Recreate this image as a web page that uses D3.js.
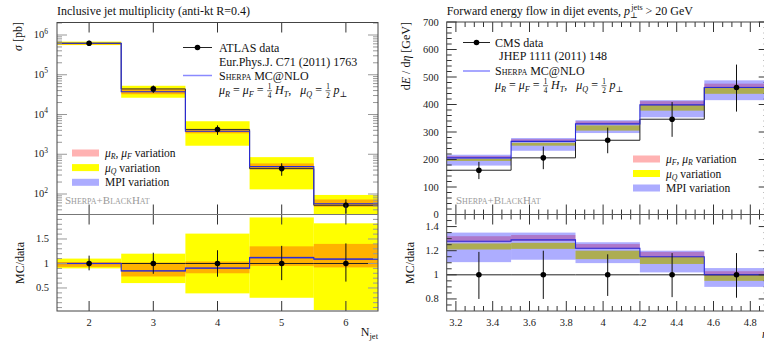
<!DOCTYPE html>
<html><head><meta charset="utf-8">
<script src="https://cdn.jsdelivr.net/npm/d3@7"></script>
<style>
body{margin:0;background:#fff;}
svg{display:block;font-family:"Liberation Serif","DejaVu Serif",serif;}
text{white-space:pre;}
</style></head>
<body><svg id="c" width="764" height="348"></svg>
<script>
// ---------------- DATA: left (ATLAS inclusive jet multiplicity) ----------------
const leftNjet   = [2, 3, 4, 5, 6];
const leftEdges  = [1.5, 2.5, 3.5, 4.5, 5.5, 6.5];
const atlasXsec  = [6.2e5, 4.4e4, 4.2e3, 436, 52];          // pb
const atlasErrHi = [1.16, 1.22, 1.27, 1.36, 1.41];           // relative to data
const atlasErrLo = [0.86, 0.79, 0.73, 0.66, 0.63];
const atlasMC    = [1.0, 0.85, 0.905, 1.12, 1.09];           // MC / data
const atlasMuRLo = [0.93, 0.735, 0.80, 0.95, 0.92];
const atlasMuRHi = [1.03, 1.02, 1.04, 1.35, 1.40];
const atlasMuQLo = [0.90, 0.60, 0.39, 0.30, 0.05];
const atlasMuQHi = [1.10, 1.20, 1.61, 1.94, 1.82];
const atlasMpiLo = [0.985, 0.835, 0.89, 1.10, 1.07];
const atlasMpiHi = [1.015, 0.865, 0.92, 1.14, 1.11];
const leftXTicks      = [2, 3, 4, 5, 6];
const leftMainTicks   = [1e2, 1e3, 1e4, 1e5, 1e6];
const leftMainTickExp = ["2", "3", "4", "5", "6"];
const leftRatioTicks  = [0.5, 1, 1.5];

// ---------------- DATA: right (CMS forward energy flow) ----------------
const cmsEdges  = [3.15, 3.5, 3.85, 4.2, 4.55, 4.9];
const cmsEta    = [3.325, 3.675, 4.025, 4.375, 4.725];
const cmsFlow   = [161, 206, 270, 346.5, 462];               // GeV
const cmsErrHi  = [1.19, 1.20, 1.17, 1.18, 1.18];
const cmsErrLo  = [0.80, 0.80, 0.825, 0.815, 0.81];
const cmsMC     = [1.278, 1.29, 1.22, 1.15, 1.0];
const cmsMuRLo  = [1.27, 1.28, 1.215, 1.145, 0.995];
const cmsMuRHi  = [1.32, 1.33, 1.255, 1.19, 1.03];
const cmsMuQLo  = [1.21, 1.215, 1.13, 1.09, 0.95];
const cmsMuQHi  = [1.26, 1.265, 1.20, 1.15, 1.0];
const cmsMpiLo  = [1.105, 1.125, 1.097, 1.02, 0.90];
const cmsMpiHi  = [1.35, 1.35, 1.27, 1.20, 1.056];
const rightXTicks     = [3.2, 3.4, 3.6, 3.8, 4.0, 4.2, 4.4, 4.6, 4.8];
const rightXLabels    = ["3.2","3.4","3.6","3.8","4","4.2","4.4","4.6","4.8"];
const rightMainTicks  = [0, 100, 200, 300, 400, 500, 600, 700];
const rightRatioTicks = [0.8, 1, 1.2, 1.4];
const rightRatioLabels= ["0.8","1","1.2","1.4"];

// ---------------- styles ----------------
const YELLOW = "#ffff00", RED = "rgba(255,0,0,0.30)", BLUE = "rgba(0,0,255,0.32)";
const MCCOL = "#2a2ad8", FRAME = "#444";
const FS = 12, LFS = 11.5;

const svg = d3.select("#c");
const defs = svg.append("defs");
let clipId = 0;
function clipRect(x0, y0, x1, y1) {
  const id = "clip" + (clipId++);
  defs.append("clipPath").attr("id", id).append("rect")
    .attr("x", x0).attr("y", y0).attr("width", x1 - x0).attr("height", y1 - y0);
  return "url(#" + id + ")";
}
function stepPts(edges, vals) {
  const p = [];
  vals.forEach((v, i) => { p.push([edges[i], v]); p.push([edges[i + 1], v]); });
  return p;
}
function bands(g, x, y, edges, base, sets) {
  sets.forEach(s => {
    g.selectAll(null).data(edges.slice(0, -1)).enter().append("rect")
      .attr("x", (d, i) => x(edges[i]))
      .attr("width", (d, i) => x(edges[i + 1]) - x(edges[i]))
      .attr("y", (d, i) => y(s.hi[i] * base[i]))
      .attr("height", (d, i) => Math.max(0, y(s.lo[i] * base[i]) - y(s.hi[i] * base[i])))
      .attr("fill", s.col);
  });
}
function stepLine(g, x, y, edges, vals, col, w) {
  g.append("path").attr("d", d3.line().x(d => x(d[0])).y(d => y(d[1]))(stepPts(edges, vals)))
    .attr("fill", "none").attr("stroke", col).attr("stroke-width", w);
}
function points(g, x, y, centers, vals, lo, hi) {
  g.selectAll(null).data(centers).enter().append("line")
    .attr("x1", d => x(d)).attr("x2", d => x(d))
    .attr("y1", (d, i) => y(vals[i] * lo[i])).attr("y2", (d, i) => y(vals[i] * hi[i]))
    .attr("stroke", "#111").attr("stroke-width", 1);
  g.selectAll(null).data(centers).enter().append("circle")
    .attr("cx", d => x(d)).attr("cy", (d, i) => y(vals[i])).attr("r", 2.8).attr("fill", "#000");
}
function hTicks(g, yv, x0, x1, len, col) {
  g.append("line").attr("x1", x0).attr("x2", x0 + len).attr("y1", yv).attr("y2", yv).attr("stroke", col);
  g.append("line").attr("x1", x1 - len).attr("x2", x1).attr("y1", yv).attr("y2", yv).attr("stroke", col);
}
function vTicks(g, xv, y0, y1, len, col) {
  g.append("line").attr("x1", xv).attr("x2", xv).attr("y1", y0).attr("y2", y0 + len).attr("stroke", col);
  g.append("line").attr("x1", xv).attr("x2", xv).attr("y1", y1 - len).attr("y2", y1).attr("stroke", col);
}
function rich(g, x, y, pieces, size, subOff) {
  const so = subOff === undefined ? 2.8 : subOff;
  let cx = x;
  pieces.forEach(p => {
    if (p.frac) {
      const w = 6;
      g.append("text").attr("x", cx + w / 2).attr("y", y - 4.6).attr("text-anchor", "middle").attr("font-size", size * 0.6).text(p.frac[0]);
      g.append("text").attr("x", cx + w / 2).attr("y", y + 3.6).attr("text-anchor", "middle").attr("font-size", size * 0.6).text(p.frac[1]);
      g.append("line").attr("x1", cx + 0.5).attr("x2", cx + w - 0.5).attr("y1", y - 3.3).attr("y2", y - 3.3).attr("stroke", "#111").attr("stroke-width", 0.6);
      cx += w + 2.5;
      return;
    }
    const small = p.sub || p.sup;
    const t = g.append("text").attr("x", cx)
      .attr("y", y + (p.sub ? so : 0) + (p.sup ? -5 : 0))
      .attr("font-size", small ? size * 0.68 : size)
      .attr("font-style", p.it ? "italic" : null)
      .attr("font-variant", p.sc ? "small-caps" : null)
      .attr("fill", p.col || "#111")
      .text(p.t);
    cx += t.node().getComputedTextLength() + (p.gap || 0);
  });
  return cx;
}
const formula = [
  {t: "μ", it: true}, {t: "R", sub: true, it: true}, {t: " = "}, {t: "μ", it: true}, {t: "F", sub: true, it: true},
  {t: " = "}, {frac: ["1", "4"]}, {t: "H", it: true}, {t: "T", sub: true, it: true}, {t: ",   "},
  {t: "μ", it: true}, {t: "Q", sub: true, it: true}, {t: " = "}, {frac: ["1", "2"]}, {t: "p", it: true}, {t: "⊥", sub: true}
];

// =============== LEFT PLOT ===============
(function () {
  const X0 = 57, X1 = 378, Y0 = 22.5, YM = 214.5, Y1 = 311;
  const x = d3.scaleLinear().domain([1.5, 6.5]).range([X0, X1]);
  const y = d3.scaleLog().domain([Math.pow(10, 1.4843), Math.pow(10, 6.3145)]).range([YM, Y0]);
  const r = d3.scaleLinear().domain([0.03, 2.0]).range([Y1, YM]);
  const ones = atlasXsec.map(() => 1);
  const sets = [
    {lo: atlasMuQLo, hi: atlasMuQHi, col: YELLOW},
    {lo: atlasMuRLo, hi: atlasMuRHi, col: RED},
    {lo: atlasMpiLo, hi: atlasMpiHi, col: BLUE}];

  const gm = svg.append("g").attr("clip-path", clipRect(X0, Y0, X1, YM));
  const mcAbs = atlasMC.map((v, i) => v * atlasXsec[i]);
  bands(gm, x, y, leftEdges, atlasXsec, sets);
  stepLine(gm, x, y, leftEdges, atlasXsec, "#333", 1);
  stepLine(gm, x, y, leftEdges, mcAbs, MCCOL, 1.1);
  points(gm, x, y, leftNjet, atlasXsec, atlasErrLo, atlasErrHi);

  const gr = svg.append("g").attr("clip-path", clipRect(X0, YM, X1, Y1));
  bands(gr, x, r, leftEdges, ones, sets);
  stepLine(gr, x, r, leftEdges, ones, "#222", 1);
  stepLine(gr, x, r, leftEdges, atlasMC, MCCOL, 1.1);
  points(gr, x, r, leftNjet, ones, atlasErrLo, atlasErrHi);

  const ax = svg.append("g");
  leftMainTicks.forEach((t, i) => {
    hTicks(ax, y(t), X0, X1, 10, "#999");
    const tx = ax.append("text").attr("x", X0 - 9).attr("y", y(t) + 3).attr("text-anchor", "end").attr("font-size", 10.5).attr("fill", "#222");
    tx.append("tspan").text("10");
    tx.append("tspan").attr("dy", -4.5).attr("font-size", 7.5).text(leftMainTickExp[i]);
  });
  for (let e = 1; e <= 6; e++) for (let m = 2; m <= 9; m++) {
    const yy = y(m * Math.pow(10, e));
    if (yy > Y0 && yy < YM) hTicks(ax, yy, X0, X1, 5, "#999");
  }
  leftRatioTicks.forEach(t => {
    hTicks(ax, r(t), X0, X1, 10, "#999");
    ax.append("text").attr("x", X0 - 8).attr("y", r(t) + 3.5).attr("text-anchor", "end").attr("font-size", 10.5).attr("fill", "#222").text(t);
  });
  for (let k = 1; k < 20; k++) {
    if (k % 5 === 0) continue;
    const yy = r(k / 10);
    if (yy > YM && yy < Y1) hTicks(ax, yy, X0, X1, 5, "#999");
  }
  leftXTicks.forEach(t => {
    vTicks(ax, x(t), Y0, YM, 10, "#333");
    vTicks(ax, x(t), YM, Y1, 10, "#333");
    ax.append("text").attr("x", x(t)).attr("y", Y1 + 15).attr("text-anchor", "middle").attr("font-size", 10.5).attr("fill", "#222").text(t);
  });
  ax.append("rect").attr("x", X0).attr("y", Y0).attr("width", X1 - X0).attr("height", Y1 - Y0).attr("fill", "none").attr("stroke", FRAME);
  ax.append("line").attr("x1", X0).attr("x2", X1).attr("y1", YM).attr("y2", YM).attr("stroke", "#777");

  svg.append("text").attr("x", X0).attr("y", 15).attr("font-size", FS).attr("fill", "#111").text("Inclusive jet multiplicity (anti-kt R=0.4)");
  const yl = svg.append("text").attr("transform", "translate(22,22) rotate(-90)").attr("text-anchor", "end").attr("font-size", FS).attr("fill", "#111");
  yl.append("tspan").attr("font-style", "italic").text("σ");
  yl.append("tspan").text(" [pb]");
  svg.append("text").attr("transform", "translate(24,263) rotate(-90)").attr("text-anchor", "middle").attr("font-size", FS).attr("fill", "#111").text("MC/data");
  const xl = svg.append("text").attr("x", X1).attr("y", 336).attr("text-anchor", "end").attr("font-size", FS).attr("fill", "#111");
  xl.append("tspan").text("N");
  xl.append("tspan").attr("dy", 2.5).attr("font-size", 8.5).text("jet");

  const lg = svg.append("g");
  lg.append("line").attr("x1", 183).attr("x2", 212).attr("y1", 47.5).attr("y2", 47.5).attr("stroke", "#222");
  lg.append("circle").attr("cx", 197.5).attr("cy", 47.5).attr("r", 2.8).attr("fill", "#000");
  lg.append("text").attr("x", 219).attr("y", 51.5).attr("font-size", FS).attr("fill", "#111").text("ATLAS data");
  lg.append("text").attr("x", 219).attr("y", 65.5).attr("font-size", FS).attr("fill", "#111").text("Eur.Phys.J. C71 (2011) 1763");
  lg.append("line").attr("x1", 183).attr("x2", 212).attr("y1", 75.5).attr("y2", 75.5).attr("stroke", "#8a8aff").attr("stroke-width", 1.5);
  rich(lg, 219, 79.5, [{t: "Sherpa", sc: true}, {t: " MC@NLO"}], FS);
  rich(lg, 219, 94, formula, FS);

  const bl = [{c: "rgb(255,178,178)", y: 153, p: [{t: "μ", it: true}, {t: "R", sub: true, it: true}, {t: ", "}, {t: "μ", it: true}, {t: "F", sub: true, it: true}, {t: " variation"}]},
              {c: YELLOW, y: 167.6, p: [{t: "μ", it: true}, {t: "Q", sub: true, it: true}, {t: " variation"}]},
              {c: "rgb(172,172,255)", y: 182.3, p: [{t: "MPI variation"}]}];
  bl.forEach(b => {
    lg.append("rect").attr("x", 72).attr("y", b.y - 3.5).attr("width", 27).attr("height", 7).attr("fill", b.c);
    rich(lg, 105, b.y + 4, b.p, LFS, 2.0);
  });
  lg.append("text").attr("x", 65).attr("y", 204).attr("font-size", 11).attr("font-variant", "small-caps").attr("fill", "#9a9a9a").text("Sherpa+BlackHat");
})();

// =============== RIGHT PLOT ===============
(function () {
  const X0 = 446.7, Y0 = 22, YM = 214.5, Y1 = 311;
  const x = d3.scaleLinear().domain([3.15, 4.9]).range([X0, X0 + 1.75 * 184]);
  const X1 = x(4.9);
  const y = d3.scaleLinear().domain([0, 700]).range([YM, Y0]);
  const r = d3.scaleLinear().domain([0.7, 1.5]).range([Y1, YM]);
  const ones = cmsFlow.map(() => 1);
  const mcAbs = cmsMC.map((v, i) => v * cmsFlow[i]);
  const sets = [
    {lo: cmsMuQLo, hi: cmsMuQHi, col: YELLOW},
    {lo: cmsMuRLo, hi: cmsMuRHi, col: RED},
    {lo: cmsMpiLo, hi: cmsMpiHi, col: BLUE}];

  const gm = svg.append("g").attr("clip-path", clipRect(X0, Y0, X1, YM));
  bands(gm, x, y, cmsEdges, cmsFlow, sets);
  stepLine(gm, x, y, cmsEdges, cmsFlow, "#222", 1);
  stepLine(gm, x, y, cmsEdges, mcAbs, MCCOL, 1.1);
  points(gm, x, y, cmsEta, cmsFlow, cmsErrLo, cmsErrHi);

  const gr = svg.append("g").attr("clip-path", clipRect(X0, YM, X1, Y1));
  bands(gr, x, r, cmsEdges, ones, sets);
  stepLine(gr, x, r, cmsEdges, ones, "#222", 1);
  stepLine(gr, x, r, cmsEdges, cmsMC, MCCOL, 1.1);
  points(gr, x, r, cmsEta, ones, cmsErrLo, cmsErrHi);

  const ax = svg.append("g");
  rightMainTicks.forEach(t => {
    hTicks(ax, y(t), X0, X1, 10, "#333");
    ax.append("text").attr("x", X0 - 8).attr("y", y(t) + 3.5).attr("text-anchor", "end").attr("font-size", 10.5).attr("fill", "#222").text(t);
  });
  for (let v = 20; v < 700; v += 20) if (v % 100) hTicks(ax, y(v), X0, X1, 5, "#333");
  rightRatioTicks.forEach((t, i) => {
    hTicks(ax, r(t), X0, X1, 10, "#333");
    ax.append("text").attr("x", X0 - 8).attr("y", r(t) + 3.5).attr("text-anchor", "end").attr("font-size", 10.5).attr("fill", "#222").text(rightRatioLabels[i]);
  });
  for (let k = 15; k < 30; k++) { if (k % 4) hTicks(ax, r(k * 0.05), X0, X1, 5, "#333"); }
  rightXTicks.forEach((t, i) => {
    vTicks(ax, x(t), Y0, YM, 10, "#333");
    vTicks(ax, x(t), YM, Y1, 10, "#333");
    ax.append("text").attr("x", x(t)).attr("y", Y1 + 15).attr("text-anchor", "middle").attr("font-size", 10.5).attr("fill", "#222").text(rightXLabels[i]);
  });
  for (let k = 64; k <= 98; k++) {
    if (k % 4 === 0) continue;
    const v = k * 0.05;
    if (v <= 3.15 || v >= 4.9) continue;
    vTicks(ax, x(v), Y0, YM, 5, "#333");
    vTicks(ax, x(v), YM, Y1, 5, "#333");
  }
  ax.append("rect").attr("x", X0).attr("y", Y0).attr("width", X1 - X0).attr("height", Y1 - Y0).attr("fill", "none").attr("stroke", FRAME);
  ax.append("line").attr("x1", X0).attr("x2", X1).attr("y1", YM).attr("y2", YM).attr("stroke", "#555");

  rich(svg, X0, 15, [{t: "Forward energy flow in dijet events, "}, {t: "p", it: true, gap: 0}, {t: "⊥", sub: true, gap: -6.5}, {t: "jets", sup: true}, {t: " > 20 GeV"}], FS);
  const yl = svg.append("text").attr("transform", "translate(410,22) rotate(-90)").attr("text-anchor", "end").attr("font-size", FS).attr("fill", "#111");
  yl.append("tspan").text("d");
  yl.append("tspan").attr("font-style", "italic").text("E");
  yl.append("tspan").text(" / d");
  yl.append("tspan").attr("font-style", "italic").text("η");
  yl.append("tspan").text(" [GeV]");
  svg.append("text").attr("transform", "translate(414,263) rotate(-90)").attr("text-anchor", "middle").attr("font-size", FS).attr("fill", "#111").text("MC/data");
  svg.append("text").attr("x", 762).attr("y", 338).attr("font-size", FS).attr("font-style", "italic").attr("fill", "#111").text("η");

  const lg = svg.append("g");
  lg.append("line").attr("x1", 463).attr("x2", 490).attr("y1", 42.5).attr("y2", 42.5).attr("stroke", "#222");
  lg.append("circle").attr("cx", 476.5).attr("cy", 42.5).attr("r", 2.8).attr("fill", "#000");
  lg.append("text").attr("x", 495).attr("y", 46.5).attr("font-size", FS).attr("fill", "#111").text("CMS data");
  lg.append("text").attr("x", 499).attr("y", 59.5).attr("font-size", FS).attr("fill", "#111").text("JHEP 1111 (2011) 148");
  lg.append("line").attr("x1", 463).attr("x2", 490).attr("y1", 71).attr("y2", 71).attr("stroke", "#8a8aff").attr("stroke-width", 1.5);
  rich(lg, 495, 75, [{t: "Sherpa", sc: true}, {t: " MC@NLO"}], FS);
  rich(lg, 495, 89, formula, FS);

  const bl = [{c: "rgb(255,178,178)", y: 159, p: [{t: "μ", it: true}, {t: "F", sub: true, it: true}, {t: ", "}, {t: "μ", it: true}, {t: "R", sub: true, it: true}, {t: " variation"}]},
              {c: YELLOW, y: 173.5, p: [{t: "μ", it: true}, {t: "Q", sub: true, it: true}, {t: " variation"}]},
              {c: "rgb(172,172,255)", y: 188, p: [{t: "MPI variation"}]}];
  bl.forEach(b => {
    lg.append("rect").attr("x", 633).attr("y", b.y - 3.5).attr("width", 27).attr("height", 7).attr("fill", b.c);
    rich(lg, 666, b.y + 4, b.p, LFS, 2.0);
  });
  lg.append("text").attr("x", 456).attr("y", 204).attr("font-size", 11).attr("font-variant", "small-caps").attr("fill", "#9a9a9a").text("Sherpa+BlackHat");
})();
</script></body></html>
